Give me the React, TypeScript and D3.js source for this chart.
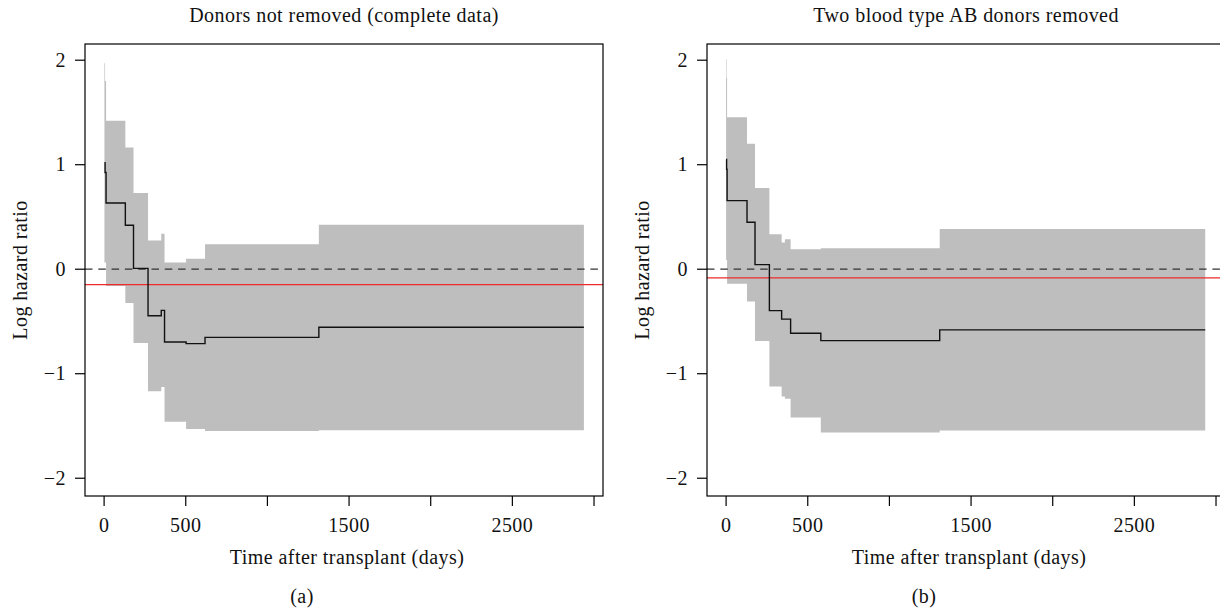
import React from "react";
import * as d3 from "d3";

// ---- Data ----
const xTickValues = [0, 500, 1000, 1500, 2000, 2500, 3000];
const xTickLabels = ["0", "500", "", "1500", "", "2500", ""];
const yTickValues = [-2, -1, 0, 1, 2];
const yTickLabels = ["\u22122", "\u22121", "0", "1", "2"];

// Panel (a): donors not removed
const aTimes = [2, 6, 12, 130, 180, 269, 350, 370, 502, 618, 1315];
const aEnd = 2938;
const aEst = [1.02, 0.925, 0.633, 0.42, 0.008, -0.445, -0.394, -0.696, -0.712, -0.652, -0.556];
const aLow = [0.065, 0.065, -0.16, -0.323, -0.705, -1.168, -1.126, -1.46, -1.528, -1.547, -1.54];
const aHigh = [1.97, 1.8, 1.42, 1.165, 0.73, 0.275, 0.34, 0.065, 0.1, 0.24, 0.425];
const aRef = -0.148;

// Panel (b): two blood type AB donors removed
const bTimes = [0, 3, 6, 128, 177, 265, 340, 360, 395, 580, 1308];
const bEnd = 2934;
const bEst = [1.05, 0.956, 0.656, 0.449, 0.044, -0.396, -0.478, -0.478, -0.612, -0.683, -0.58];
const bLow = [0.089, 0.089, -0.14, -0.31, -0.686, -1.122, -1.218, -1.24, -1.419, -1.562, -1.543];
const bHigh = [2.01, 1.83, 1.453, 1.2, 0.777, 0.334, 0.255, 0.287, 0.19, 0.2, 0.385];
const bRef = -0.083;

const titles = ["Donors not removed (complete data)", "Two blood type AB donors removed"];
const panelTags = ["(a)", "(b)"];
const xTitle = "Time after transplant (days)";
const yTitle = "Log hazard ratio";

const FONT = "'Liberation Serif', 'Times New Roman', serif";
const FS = 20;
const LS = 0.45;

type Pt = { t: number; est: number; lo: number; hi: number };

function buildPoints(times: number[], end: number, est: number[], lo: number[], hi: number[]): Pt[] {
  const pts: Pt[] = times.map((t, i) => ({ t, est: est[i], lo: lo[i], hi: hi[i] }));
  const last = pts[pts.length - 1];
  pts.push({ t: end, est: last.est, lo: last.lo, hi: last.hi });
  return pts;
}

function Panel({ left, title, tag, pts, refVal }: { left: number; title: string; tag: string; pts: Pt[]; refVal: number }) {
  const boxL = left;
  const boxR = left + 518;
  const boxT = 44;
  const boxB = 496;
  const x = d3.scaleLinear().domain([-117, 3055]).range([boxL, boxR]);
  const y = d3.scaleLinear().domain([-2.17, 2.155]).range([boxB, boxT]);
  const area = d3
    .area<Pt>()
    .x((d) => x(d.t))
    .y0((d) => y(d.lo))
    .y1((d) => y(d.hi))
    .curve(d3.curveStepAfter);
  const line = d3
    .line<Pt>()
    .x((d) => x(d.t))
    .y((d) => y(d.est))
    .curve(d3.curveStepAfter);
  const cx = (boxL + boxR) / 2;
  const txt = { fontFamily: FONT, fontSize: FS, fill: "#111", letterSpacing: LS };
  return (
    <g>
      <path d={area(pts) || ""} fill="#bebebe" stroke="none" />
      <line x1={boxL} x2={boxR} y1={y(0)} y2={y(0)} stroke="#333" strokeWidth={1.3} strokeDasharray="7.5,5.8" />
      <line x1={boxL} x2={boxR} y1={y(refVal)} y2={y(refVal)} stroke="#ee2a2a" strokeWidth={1.2} />
      <path d={line(pts) || ""} fill="none" stroke="#111" strokeWidth={1.4} />
      <rect x={boxL} y={boxT} width={boxR - boxL} height={boxB - boxT} fill="none" stroke="#000" strokeWidth={1.2} />
      {yTickValues.map((v, i) => (
        <g key={"y" + v}>
          <line x1={boxL - 10} x2={boxL} y1={y(v)} y2={y(v)} stroke="#000" strokeWidth={1.2} />
          <text x={boxL - 19} y={y(v) + 6.5} textAnchor="end" {...txt}>
            {yTickLabels[i]}
          </text>
        </g>
      ))}
      {xTickValues.map((v, i) => (
        <g key={"x" + v}>
          <line x1={x(v)} x2={x(v)} y1={boxB} y2={boxB + 10} stroke="#000" strokeWidth={1.2} />
          {xTickLabels[i] && (
            <text x={x(v)} y={532} textAnchor="middle" {...txt}>
              {xTickLabels[i]}
            </text>
          )}
        </g>
      ))}
      <text x={cx} y={22} textAnchor="middle" {...txt}>
        {title}
      </text>
      <text x={cx + 3} y={564} textAnchor="middle" {...txt}>
        {xTitle}
      </text>
      <text x={cx - 42} y={603} textAnchor="middle" {...txt}>
        {tag}
      </text>
      <text transform={`translate(${boxL - 58},${(boxT + boxB) / 2}) rotate(-90)`} textAnchor="middle" {...txt}>
        {yTitle}
      </text>
    </g>
  );
}

export default function App() {
  const aPts = buildPoints(aTimes, aEnd, aEst, aLow, aHigh);
  const bPts = buildPoints(bTimes, bEnd, bEst, bLow, bHigh);
  return (
    <svg width={1220} height={610} style={{ position: "absolute", left: 0, top: 0, background: "#fff" }}>
      <rect x={0} y={0} width={1220} height={610} fill="#fff" />
      <Panel left={85} title={titles[0]} tag={panelTags[0]} pts={aPts} refVal={aRef} />
      <Panel left={707} title={titles[1]} tag={panelTags[1]} pts={bPts} refVal={bRef} />
    </svg>
  );
}
